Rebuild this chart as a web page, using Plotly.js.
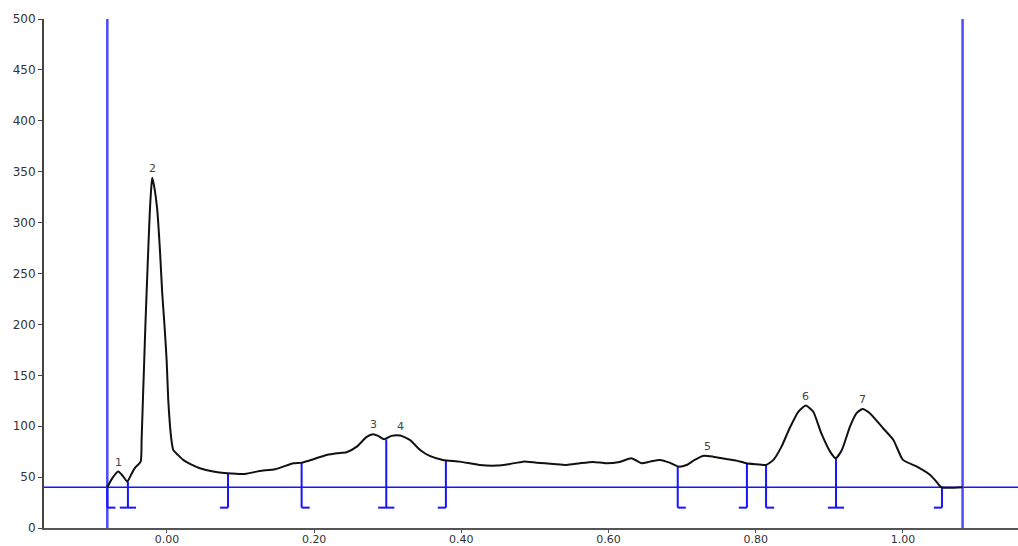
<!DOCTYPE html>
<html>
<head>
<meta charset="utf-8">
<script src="https://cdn.plot.ly/plotly-3.0.1.min.js"></script>
<style>
  html, body { margin: 0; padding: 0; background: #fff; }
  #plot { width: 1018px; height: 546px; }
</style>
</head>
<body>
<div id="plot"></div>
<script>
// Densitometric lane profile: migration (Rf) vs. intensity
const traceX = [-0.081, -0.075, -0.0662, -0.0598, -0.0539, -0.0489, -0.0435, -0.0357, -0.0344, -0.0326,
  -0.0308, -0.0292, -0.0276, -0.0251, -0.0231, -0.0215, -0.0200, -0.0177, -0.0132, -0.0095,
  -0.0064, -0.0034, -0.0004, 0.0018, 0.0041, 0.0061, 0.0086, 0.0149, 0.0221, 0.0313,
  0.0448, 0.0629, 0.0819, 0.106, 0.126, 0.147, 0.172, 0.183, 0.199, 0.217,
  0.231, 0.244, 0.258, 0.271, 0.280, 0.287, 0.295, 0.305, 0.317, 0.330,
  0.344, 0.357, 0.375, 0.398, 0.425, 0.448, 0.466, 0.484, 0.502, 0.525,
  0.543, 0.561, 0.579, 0.597, 0.615, 0.631, 0.645, 0.656, 0.670, 0.683,
  0.695, 0.706, 0.717, 0.728, 0.742, 0.760, 0.774, 0.787, 0.801, 0.814,
  0.824, 0.835, 0.846, 0.858, 0.868, 0.878, 0.889, 0.901, 0.9086, 0.917,
  0.928, 0.937, 0.945, 0.955, 0.973, 0.987, 1.000, 1.019, 1.037, 1.046,
  1.052, 1.081];
const traceY = [40, 48, 55.4, 51, 45.5, 52, 59, 65.2, 86.5, 126,
  165, 200, 231, 278, 313, 332, 344, 337, 313, 273,
  231, 200, 165, 126, 101, 86.5, 76.7, 71.8, 66.9, 63,
  58.7, 55.4, 53.8, 53.1, 56, 57.7, 63.6, 64.2, 67.6, 71.8,
  73.5, 74.4, 79.9, 89.2, 92.1, 90.5, 87.2, 90.5, 90.8, 86.5,
  76.7, 70.8, 66.9, 65.2, 61.9, 61.3, 62.9, 65.2, 64.2, 62.9,
  61.9, 63.6, 64.9, 63.6, 64.9, 68.5, 63.6, 65.2, 66.9, 64.2,
  60.3, 61.9, 66.9, 70.8, 70.1, 67.8, 66.2, 63.6, 62.6, 61.9,
  66.9, 79.9, 98.0, 114.4, 120.3, 114.4, 93.1, 75.0, 68.5, 76.7,
  99.6, 112.8, 117.0, 112.8, 98.0, 86.5, 66.9, 60.3, 52.1, 45,
  40, 40];

// Numbered peaks (apex position and height)
const peakLabels = ['1', '2', '3', '4', '5', '6', '7'];
const peakX = [-0.0662, -0.0200, 0.280, 0.317, 0.735, 0.868, 0.945];
const peakY = [55.4, 344, 92.1, 90.8, 70.8, 120.3, 117.0];

// Integration boundaries: position, profile height, and marker type
// ('start' = foot right, 'end' = foot left, 'split' = foot both sides)
const boundX = [-0.081, -0.053, 0.083, 0.183, 0.298, 0.379, 0.694, 0.788, 0.814, 0.909, 1.053];
const boundTop = [42, 45.5, 54, 64, 87, 66.5, 60.5, 63.5, 62, 68.5, 40];
const boundType = ['start', 'split', 'end', 'start', 'split', 'end', 'start', 'end', 'start', 'split', 'end'];

// Lane limits, baseline and marker foot level
const laneStart = -0.081;
const laneEnd = 1.081;
const baseline = 40;
const footLevel = 20;
const footLen = 0.011;

const yTicks = [0, 50, 100, 150, 200, 250, 300, 350, 400, 450, 500];
const xTicks = [0, 0.2, 0.4, 0.6, 0.8, 1.0];
const xTickText = ['0.00', '0.20', '0.40', '0.60', '0.80', '1.00'];

const blue = '#1515ff';
const font = 'DejaVu Sans, Arial, sans-serif';

// Build the boundary markers as one broken polyline
const bx = [], by = [];
boundX.forEach((x, i) => {
  const t = boundType[i];
  const left = (t === 'end' || t === 'split') ? x - footLen : x;
  const right = (t === 'start' || t === 'split') ? x + footLen : x;
  bx.push(x, x, null, left, right, null);
  by.push(boundTop[i], footLevel, null, footLevel, footLevel, null);
});

const traces = [
  {
    x: bx, y: by, type: 'scatter', mode: 'lines',
    line: { color: blue, width: 2 }, connectgaps: false,
    hoverinfo: 'skip', showlegend: false
  },
  {
    x: traceX, y: traceY, type: 'scatter', mode: 'lines',
    line: { color: '#111', width: 2, shape: 'spline', smoothing: 0.55 },
    showlegend: false
  }
];

const annotations = peakLabels.map((t, i) => ({
  x: peakX[i], y: peakY[i], xref: 'x', yref: 'y',
  text: t, showarrow: false, yanchor: 'bottom', yshift: 1,
  font: { family: font, size: 11, color: '#444' }
}));

const shapes = [
  { type: 'line', xref: 'paper', yref: 'y', x0: 0, x1: 1, y0: baseline, y1: baseline,
    line: { color: blue, width: 1.5 }, layer: 'below' },
  { type: 'line', xref: 'x', yref: 'y', x0: laneStart, x1: laneStart, y0: 0, y1: 500,
    line: { color: '#4a4aff', width: 2.5 }, layer: 'below' },
  { type: 'line', xref: 'x', yref: 'y', x0: laneEnd, x1: laneEnd, y0: 0, y1: 500,
    line: { color: '#4a4aff', width: 2.5 }, layer: 'below' }
];

const layout = {
  width: 1018, height: 546,
  margin: { l: 44, r: 0, t: 19, b: 18, pad: 0 },
  paper_bgcolor: '#fff', plot_bgcolor: '#fff',
  showlegend: false,
  xaxis: {
    range: [-0.167, 1.1563], tickvals: xTicks, ticktext: xTickText,
    showgrid: false, zeroline: false,
    showline: true, linecolor: '#555', linewidth: 2,
    ticks: 'outside', ticklen: 3, tickcolor: '#555', tickwidth: 1,
    ticklabelstandoff: -3,
    tickfont: { family: font, size: 11, color: '#333' }
  },
  yaxis: {
    range: [0, 500], tickvals: yTicks,
    showgrid: false, zeroline: false,
    showline: true, linecolor: '#444', linewidth: 2,
    ticks: 'outside', ticklen: 4, tickcolor: '#444', tickwidth: 1,
    tickfont: { family: font, size: 12, color: '#333' }
  },
  shapes: shapes,
  annotations: annotations
};

Plotly.newPlot('plot', traces, layout, { displayModeBar: false, staticPlot: true });
</script>
</body>
</html>
